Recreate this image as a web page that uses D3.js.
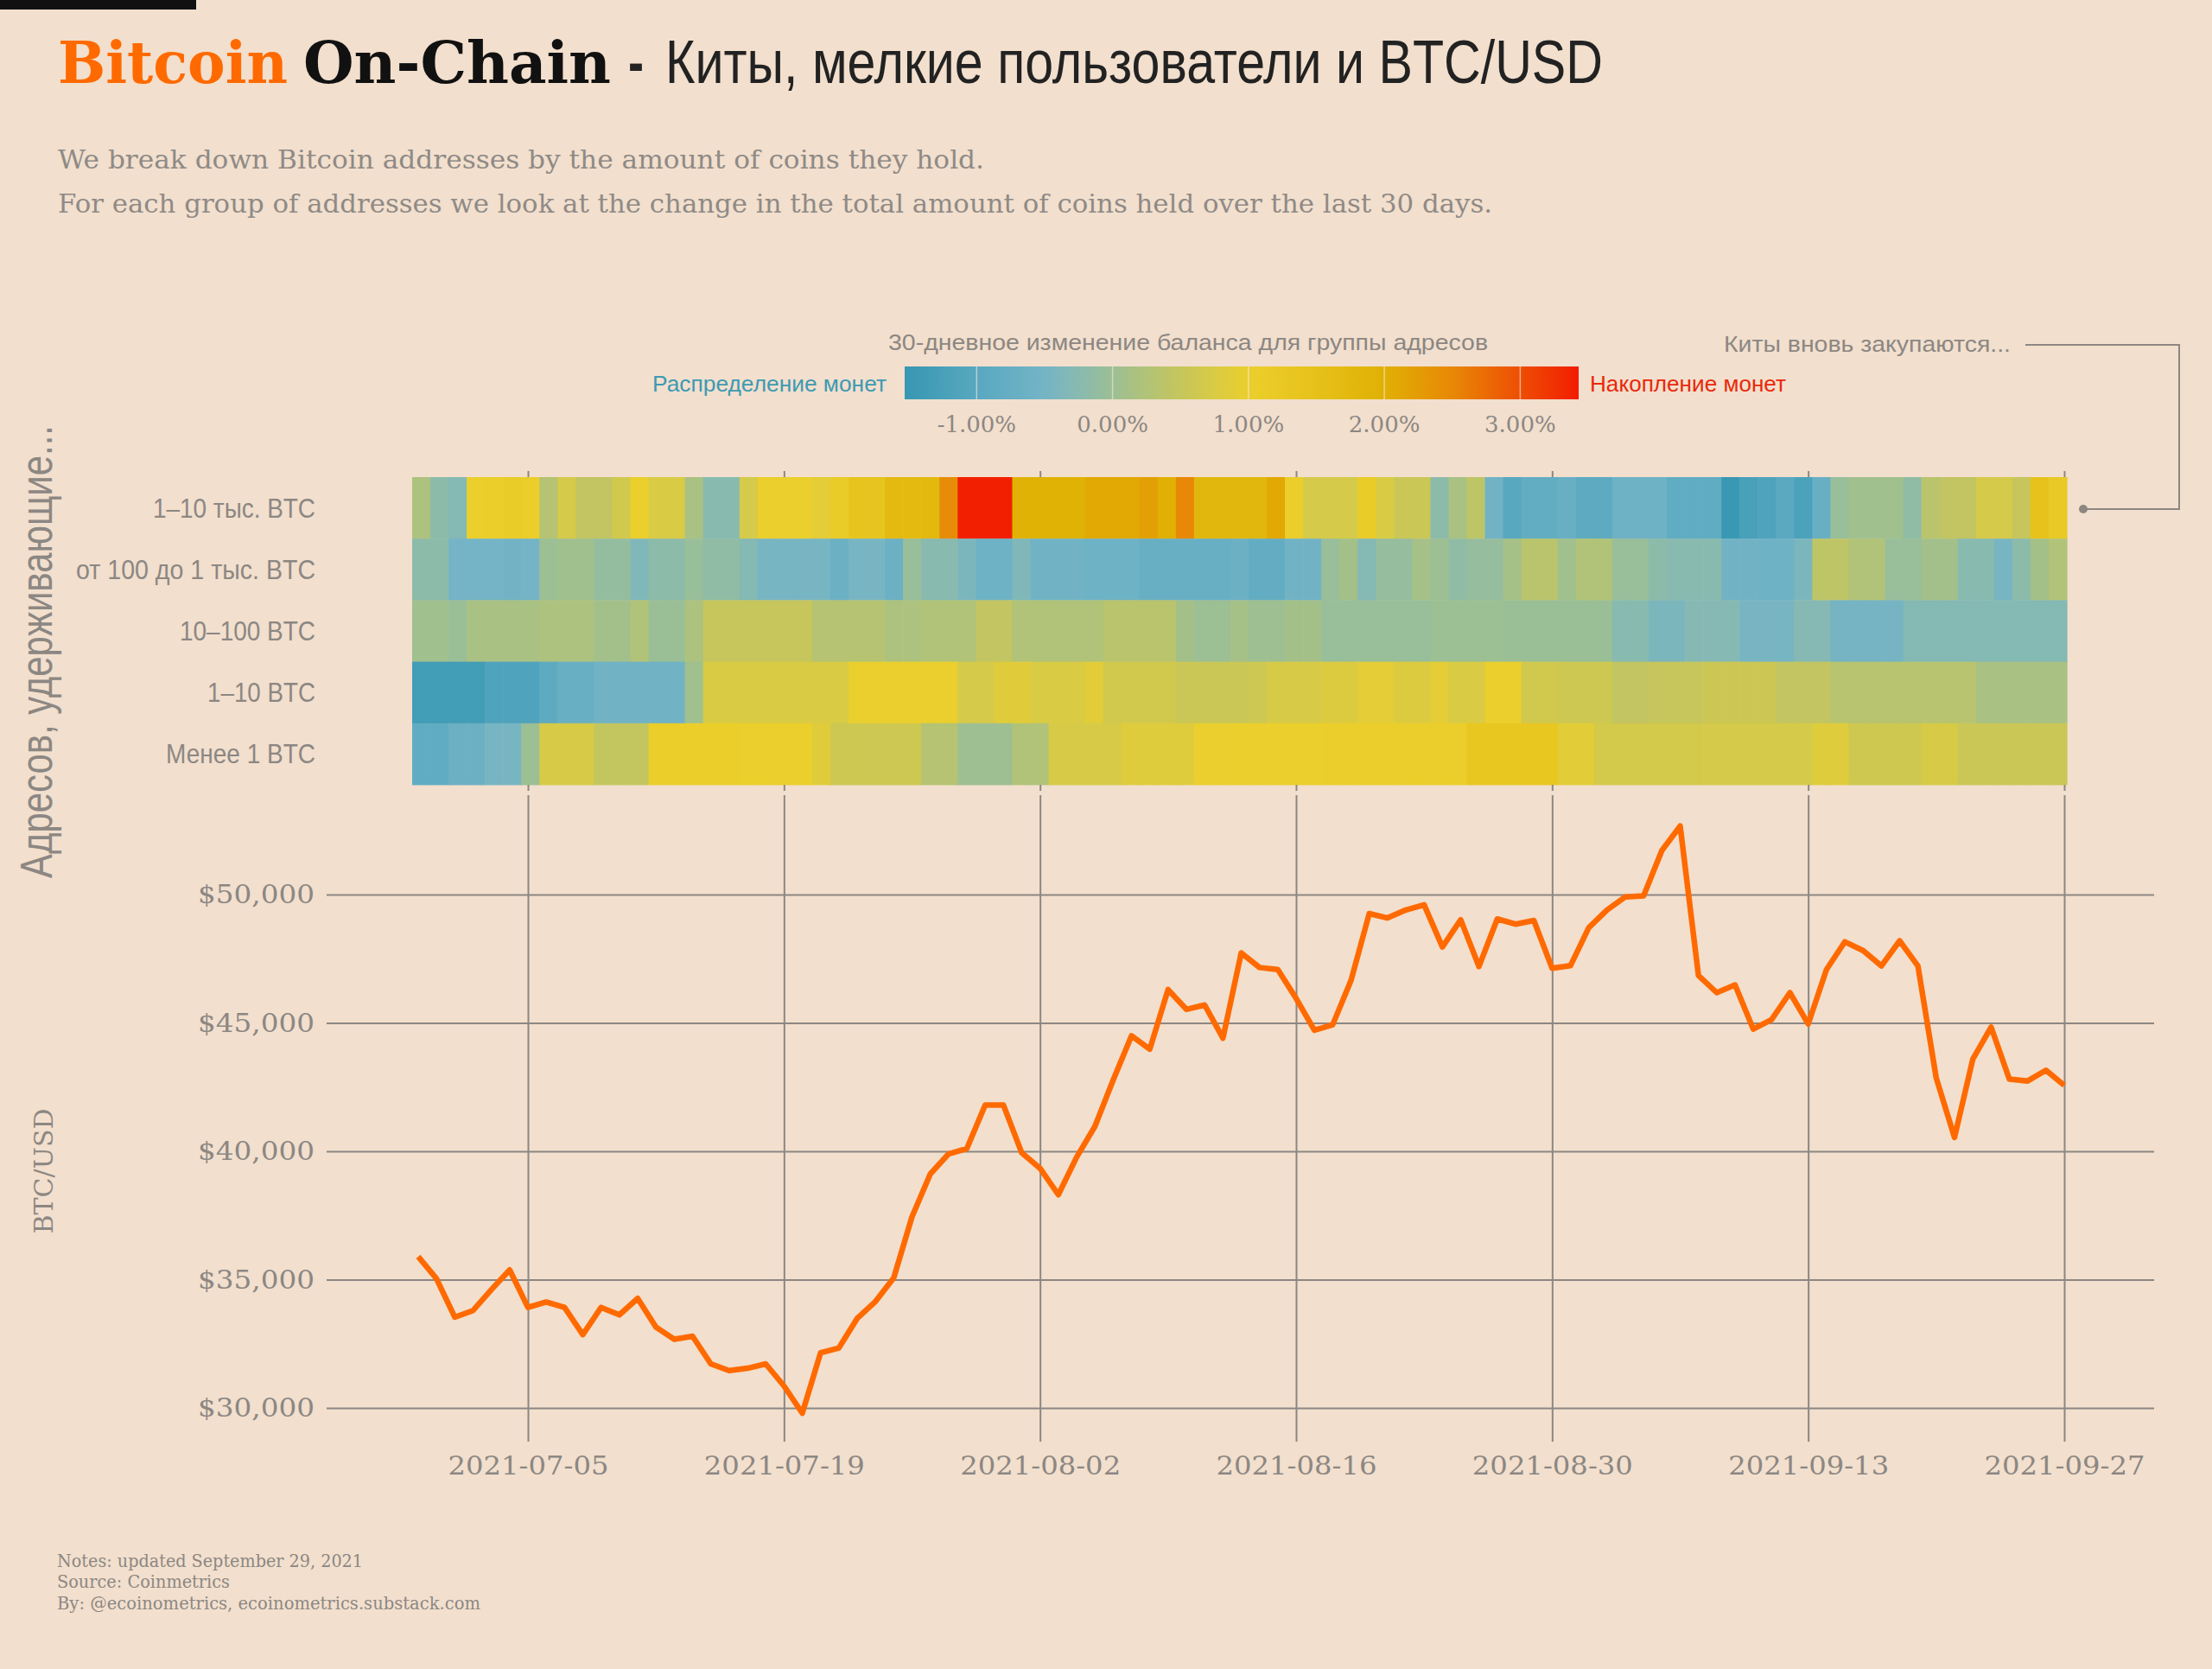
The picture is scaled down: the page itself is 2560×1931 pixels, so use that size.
<!DOCTYPE html>
<html><head><meta charset="utf-8">
<script src="https://cdn.jsdelivr.net/npm/d3@7"></script>
<style>
html,body{margin:0;padding:0;background:#f2dfcd;}
svg{display:block;}
</style></head><body>
<svg id="c" width="2560" height="1931"></svg>
<script>
// ---------------- DATA ----------------
const rowLabels = ["1–10 тыс. BTC","от 100 до 1 тыс. BTC","10–100 BTC","1–10 BTC","Менее 1 BTC"];
const startDate = "2021-06-29";
const endDate = "2021-09-27";
const dateTicks = ["2021-07-05","2021-07-19","2021-08-02","2021-08-16","2021-08-30","2021-09-13","2021-09-27"];
const priceTicks = [30000,35000,40000,45000,50000];
const legendTicks = [-1,0,1,2,3];
const legendTickLabels = ["-1.00%","0.00%","1.00%","2.00%","3.00%"];

// BTC/USD daily close, 2021-06-29 .. 2021-09-27
const price = [35900,35040,
 33540,33800,34610,35380,33920,34130,33920,32860,33920,33630,34270,33150,32680,32800,31720,31460,31550,31720,30860,29800,32150,32340,33490,34150,35070,37450,39120,39900,40110,41800,41800,
 39940,39340,38310,39770,40970,42780,44500,43980,46300,45530,45700,44410,47730,47160,47080,45960,44720,44930,46650,49260,49090,49400,49600,47960,49020,47200,49050,48850,48990,47130,47230,
 48710,49400,49910,49950,51720,52670,46850,46180,46480,44760,45130,46180,44960,47080,48160,47820,47220,48200,47220,42860,40540,43590,44840,42810,42740,43160,42570];

// 30-day balance change (%) per address group
const row1k10k = [0.2,-0.2,-0.3,1.0,1.05,1.1,1.05,0.3,0.7,0.45,
 0.45,0.65,1.0,0.75,0.75,0.15,-0.25,-0.25,0.7,1.0,
 1.0,1.0,0.9,1.1,1.4,1.4,1.7,1.7,1.75,2.45,
 3.4,3.4,3.4,1.95,1.95,1.95,1.95,2.1,2.1,2.1,
 2.2,2.0,2.5,1.8,1.8,1.8,1.8,2.1,1.05,0.7,
 0.7,0.7,1.1,0.75,0.55,0.55,-0.2,0.15,0.4,-0.55,
 -1.0,-0.8,-0.8,-0.7,-0.9,-0.9,-0.6,-0.6,-0.6,-0.85,
 -0.85,-0.85,-1.5,-1.25,-1.15,-0.95,-1.2,-0.7,-0.05,0.05,
 0.05,0.05,-0.15,0.35,0.45,0.45,0.7,0.7,0.5,1.45,
 1.2];
const row100to1k = [-0.2,-0.2,-0.5,-0.5,-0.5,-0.55,-0.5,0.0,0.05,0.05,
 -0.1,-0.1,-0.35,-0.2,-0.2,-0.05,-0.15,-0.15,-0.3,-0.45,
 -0.45,-0.45,-0.45,-0.65,-0.45,-0.45,-0.65,-0.05,-0.25,-0.25,
 -0.4,-0.6,-0.6,-0.35,-0.55,-0.55,-0.55,-0.6,-0.6,-0.6,
 -0.7,-0.7,-0.7,-0.7,-0.7,-0.65,-0.8,-0.8,-0.55,-0.55,
 -0.05,0.1,-0.3,-0.08,-0.08,0.12,0.0,-0.15,-0.08,-0.08,
 0.12,0.35,0.35,0.05,0.25,0.25,-0.05,-0.05,-0.2,-0.25,
 -0.25,-0.25,-0.55,-0.55,-0.6,-0.6,-0.4,0.4,0.4,0.25,
 0.25,-0.05,-0.05,0.08,0.08,-0.25,-0.25,-0.45,-0.2,0.1,
 0.25];
const row10to100 = [0.05,0.05,-0.02,0.15,0.15,0.15,0.15,0.2,0.2,0.2,
 0.08,0.08,0.25,-0.02,-0.02,0.2,0.5,0.5,0.5,0.5,
 0.5,0.5,0.3,0.3,0.3,0.3,0.2,0.2,0.25,0.25,
 0.25,0.45,0.45,0.25,0.25,0.25,0.25,0.25,0.35,0.35,
 0.35,0.35,0.1,0.0,0.0,0.12,0.02,0.02,0.1,0.1,
 -0.05,-0.05,-0.05,-0.05,-0.05,-0.05,0.0,0.0,0.0,0.0,
 -0.02,-0.02,-0.02,-0.02,-0.02,-0.02,-0.25,-0.25,-0.4,-0.4,
 -0.28,-0.28,-0.28,-0.45,-0.45,-0.45,-0.28,-0.28,-0.48,-0.48,
 -0.48,-0.48,-0.3,-0.3,-0.3,-0.3,-0.3,-0.3,-0.3,-0.3,
 -0.3];
const row1to10 = [-1.35,-1.35,-1.35,-1.35,-1.15,-1.15,-1.15,-0.9,-0.7,-0.7,
 -0.55,-0.55,-0.55,-0.55,-0.55,0.05,0.75,0.75,0.75,0.75,
 0.75,0.75,0.75,0.75,0.98,0.98,0.98,0.98,0.98,0.98,
 0.7,0.7,0.85,0.85,0.75,0.75,0.75,0.88,0.65,0.65,
 0.65,0.65,0.55,0.55,0.55,0.55,0.6,0.72,0.72,0.72,
 0.8,0.8,0.9,0.9,0.8,0.8,0.9,0.75,0.75,1.0,
 1.0,0.65,0.65,0.6,0.6,0.6,0.45,0.45,0.5,0.5,
 0.5,0.58,0.58,0.58,0.58,0.45,0.45,0.45,0.33,0.33,
 0.33,0.33,0.33,0.33,0.33,0.33,0.15,0.15,0.15,0.15,
 0.15];
const rowUnder1 = [-0.85,-0.85,-0.65,-0.65,-0.45,-0.45,0.0,0.72,0.72,0.72,
 0.47,0.47,0.47,1.05,1.05,1.05,1.05,1.05,1.0,1.0,
 1.0,1.0,0.85,0.6,0.6,0.6,0.6,0.6,0.3,0.3,
 0.02,0.02,0.02,0.25,0.25,0.72,0.72,0.72,0.72,0.82,
 0.82,0.82,0.82,0.98,0.98,1.0,1.0,1.0,1.0,1.0,
 1.02,1.02,1.02,1.02,1.02,1.02,1.02,1.02,1.3,1.3,
 1.3,1.3,1.3,0.88,0.88,0.68,0.68,0.68,0.68,0.68,
 0.68,0.7,0.7,0.7,0.7,0.7,0.7,0.82,0.82,0.62,
 0.62,0.62,0.62,0.72,0.72,0.55,0.55,0.55,0.55,0.55,
 0.55];

const colorStops = [-1.53,-1.0,-0.5,-0.25,0.0,0.5,1.0,1.5,2.0,2.5,3.0,3.43];
const colorValues = ["#3797b2","#58a8c0","#74b4c6","#88bab0","#9cbf94","#c6c65c","#ebcf2c","#e6c11a","#e0b004","#e88806","#ee4e04","#f21c00"];

// ---------------- DRAW ----------------
const SANS = "'Liberation Sans Narrow','Liberation Sans',Arial,sans-serif";
const SERIF = "'DejaVu Serif',Georgia,serif";
const GREY = "#8c8783";
const parse = d3.timeParse("%Y-%m-%d");
const dates = d3.timeDay.range(parse(startDate), d3.timeDay.offset(parse(endDate), 1));
const rows = [row1k10k, row100to1k, row10to100, row1to10, rowUnder1];

const svg = d3.select("#c");
svg.append("rect").attr("width",2560).attr("height",1931).attr("fill","#f2dfcd");
svg.append("rect").attr("x",0).attr("y",0).attr("width",227).attr("height",11).attr("fill","#111");

function txt(x,y,s,opts){
  const t = svg.append("text").attr("x",x).attr("y",y).text(s)
    .attr("font-family",opts.family||SANS).attr("font-size",opts.size)
    .attr("fill",opts.fill||GREY);
  if(opts.weight) t.attr("font-weight",opts.weight);
  if(opts.anchor) t.attr("text-anchor",opts.anchor);
  if(opts.len) t.attr("textLength",opts.len).attr("lengthAdjust","spacingAndGlyphs");
  return t;
}

// Title
txt(67,96,"Bitcoin",{family:SERIF,size:68,weight:"bold",fill:"#ff6a00",len:266});
txt(351,96,"On-Chain",{family:SERIF,size:68,weight:"bold",fill:"#111",len:356});
txt(727,96,"-",{size:70,weight:"bold",fill:"#222",len:18});
txt(770,96,"Киты, мелкие пользователи и BTC/USD",{size:70,fill:"#222",len:1085});
// Subtitle
txt(67,195,"We break down Bitcoin addresses by the amount of coins they hold.",{family:SERIF,size:30,fill:"#8f8a86",len:1072});
txt(67,246,"For each group of addresses we look at the change in the total amount of coins held over the last 30 days.",{family:SERIF,size:30,fill:"#8f8a86",len:1660});

// Colour scale + legend
const color = d3.scaleLinear().domain(colorStops).range(colorValues).interpolate(d3.interpolateRgb).clamp(true);
const lx = d3.scaleLinear().domain([colorStops[0], colorStops[colorStops.length-1]]).range([1047,1827]);
const defs = svg.append("defs");
const grad = defs.append("linearGradient").attr("id","lg").attr("x1","0%").attr("x2","100%");
d3.range(0,1.0001,0.02).forEach(f=>{
  const v = lx.invert(1047+f*780);
  grad.append("stop").attr("offset",(f*100)+"%").attr("stop-color",color(v));
});
svg.append("rect").attr("x",1047).attr("y",424).attr("width",780).attr("height",38).attr("fill","url(#lg)");
svg.selectAll(".lt").data(legendTicks).enter().append("line")
  .attr("x1",d=>lx(d)).attr("x2",d=>lx(d)).attr("y1",424).attr("y2",462)
  .attr("stroke","#f6eadf").attr("stroke-opacity",0.6).attr("stroke-width",1.5);
svg.selectAll(".ltl").data(legendTicks).enter().append("text")
  .attr("x",d=>lx(d)).attr("y",500).attr("text-anchor","middle")
  .attr("font-family",SERIF).attr("font-size",26).attr("fill",GREY)
  .text((d,i)=>legendTickLabels[i]);
txt(1028,405,"30-дневное изменение баланса для группы адресов",{size:26,len:694});
txt(1026,453,"Распределение монет",{size:26,anchor:"end",fill:"#3d9ab3",len:271});
txt(1840,453,"Накопление монет",{size:26,fill:"#e8290b",len:227});

// Annotation
txt(1995,407,"Киты вновь закупаются...",{size:26,len:332});
svg.append("path").attr("d","M2344,399H2522V589H2411").attr("fill","none").attr("stroke",GREY).attr("stroke-width",2);
svg.append("circle").attr("cx",2411).attr("cy",589).attr("r",5).attr("fill",GREY);

// Scales
const x = d3.scaleTime().domain([parse(startDate), parse(endDate)]).range([484,2389]);
const xb = d3.scaleBand().domain(d3.range(dates.length)).range([477,2392]).paddingInner(0);
const yb = d3.scaleBand().domain(rowLabels).range([552,908]).paddingInner(0);
const y = d3.scaleLinear().domain([28690,53940]).range([1668,918]);

// Heatmap
rows.forEach((vals,ri)=>{
  svg.append("g").selectAll("rect").data(vals).enter().append("rect")
    .attr("x",(d,i)=>xb(i)).attr("y",yb(rowLabels[ri]))
    .attr("width",xb.bandwidth()+0.6).attr("height",yb.bandwidth()+0.4)
    .attr("fill",d=>color(d));
});
rowLabels.forEach((l,i)=>{
  const lens=[188,277,157,125,173];
  txt(365,yb(l)+yb.bandwidth()/2+11,l,{size:32,anchor:"end",len:lens[i]});
});
txt(0,0,"Адресов, удерживающие...",{size:52,anchor:"middle",len:524})
  .attr("transform","translate(60,754) rotate(-90)").attr("x",null).attr("y",null);

const tickDates = dateTicks.map(parse);
const fmt = d3.timeFormat("%Y-%m-%d");
const axTop = svg.append("g").attr("transform","translate(0,552)")
  .call(d3.axisTop(x).tickValues(tickDates).tickSize(7).tickFormat(""));
const axHb = svg.append("g").attr("transform","translate(0,908)")
  .call(d3.axisBottom(x).tickValues(tickDates).tickSize(7).tickFormat(""));
[axTop,axHb].forEach(a=>{a.select(".domain").remove(); a.selectAll("line").attr("stroke",GREY).attr("stroke-width",2);});

// Line chart grid
const gy = svg.append("g").attr("transform","translate(378,0)")
  .call(d3.axisLeft(y).tickValues(priceTicks).tickSize(-2115).tickPadding(14).tickFormat(d=>"$"+d3.format(",")(d)));
gy.select(".domain").remove();
gy.selectAll("line").attr("stroke",GREY).attr("stroke-width",2);
gy.selectAll("text").attr("font-family",SERIF).attr("font-size",30).attr("fill",GREY)
  .attr("textLength",135).attr("lengthAdjust","spacingAndGlyphs");

const gx = svg.append("g").attr("transform","translate(0,1668)")
  .call(d3.axisBottom(x).tickValues(tickDates).tickSize(-748).tickPadding(17).tickFormat(fmt));
gx.select(".domain").remove();
gx.selectAll("line").attr("stroke",GREY).attr("stroke-width",2);
gx.selectAll("text").attr("font-family",SERIF).attr("font-size",30).attr("fill",GREY)
  .attr("textLength",186).attr("lengthAdjust","spacingAndGlyphs");

txt(0,0,"BTC/USD",{family:SERIF,size:30,anchor:"middle",len:145})
  .attr("transform","translate(61,1355) rotate(-90)").attr("x",null).attr("y",null);

// Price line
const line = d3.line().x((d,i)=>x(dates[i])).y(d=>y(d));
svg.append("path").datum(price).attr("d",line).attr("fill","none")
  .attr("stroke","#ff6a00").attr("stroke-width",6.5).attr("stroke-linejoin","round");

// Footer
txt(66,1813,"Notes: updated September 29, 2021",{family:SERIF,size:20,len:354});
txt(66,1837,"Source: Coinmetrics",{family:SERIF,size:20,len:200});
txt(66,1862,"By: @ecoinometrics, ecoinometrics.substack.com",{family:SERIF,size:20,len:490});
</script>
</body></html>
